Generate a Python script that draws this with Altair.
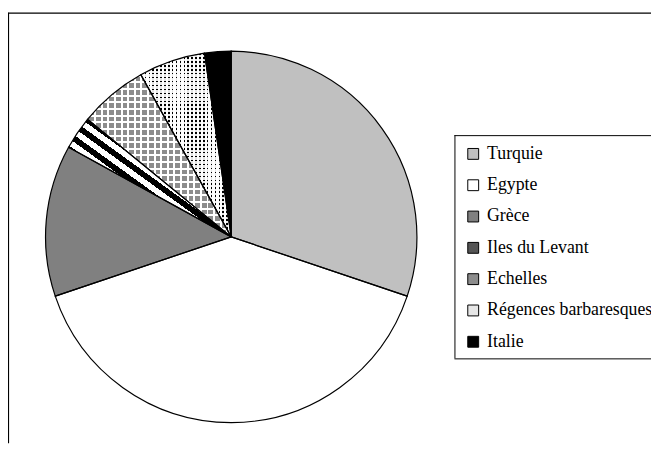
import altair as alt
import pandas as pd

categories = ["Turquie", "Egypte", "Grèce", "Iles du Levant", "Echelles",
              "Régences barbaresques", "Italie"]
shares = [30.2, 39.7, 13.2, 2.9, 6.0, 5.8, 2.3]
base_colors = ["#c0c0c0", "#ffffff", "#808080", "#555555", "#8c8c8c", "#e6e6e6", "#000000"]

df = pd.DataFrame({"cat": categories, "value": shares, "idx": list(range(len(categories)))})

CLEAR = "rgba(255,255,255,0)"


def stripes(x1, y1, x2, y2, period, on_frac, on, off):
    stops = []
    k = 0
    while True:
        a = k * period
        if a >= 1:
            break
        b = min(a + period * on_frac, 1.0)
        c = min(a + period, 1.0)
        stops += [{"offset": round(a, 5), "color": on}, {"offset": round(b, 5), "color": on}]
        if b < 1:
            stops += [{"offset": round(b, 5), "color": off}, {"offset": round(c, 5), "color": off}]
        k += 1
    return {"gradient": "linear", "x1": x1, "y1": y1, "x2": x2, "y2": y2, "stops": stops}


g_iles = stripes(0, 1, 1, 0, 0.06, 0.5, "#000000", "#ffffff")
g_ech_h = stripes(0, 0, 0, 1, 0.041, 0.3, "#ffffff", CLEAR)
g_ech_v = stripes(0, 0, 1, 0, 0.046, 0.3, "#ffffff", CLEAR)
g_reg_h = stripes(0, 0, 0, 1, 0.0215, 0.4, "#000000", CLEAR)
g_reg_v = stripes(0, 0, 1, 0, 0.043, 0.4, CLEAR, "#ffffff")

CX, CY, R = 226, 227, 188
W, H = 651, 436
LX, LY, LB = 452, 124, 350

theta = alt.Theta("value:Q", stack=True)
order = alt.Order("idx:Q", sort="ascending")

base = alt.Chart(df).mark_arc(radius=R, stroke=None).encode(
    theta=theta,
    order=order,
    x=alt.value(CX),
    y=alt.value(CY),
    color=alt.Color(
        "cat:N",
        scale=alt.Scale(domain=categories, range=base_colors),
        legend=alt.Legend(
            orient="none", legendX=LX, legendY=LY, title=None,
            symbolType="square", symbolSize=121, symbolStrokeColor="black",
            symbolStrokeWidth=1, symbolOpacity=1,
            labelFont="Liberation Serif", labelFontSize=18, labelColor="black",
            labelLimit=400, labelOffset=5, rowPadding=13.7,
            padding=10,
        ),
    ),
)

overlay_a = alt.Chart(df).mark_arc(radius=R, stroke=None).encode(
    theta=theta,
    order=order,
    x=alt.value(CX),
    y=alt.value(CY),
    fill={
        "condition": [
            {"test": "datum.cat === 'Iles du Levant'", "value": g_iles},
            {"test": "datum.cat === 'Echelles'", "value": g_ech_h},
            {"test": "datum.cat === 'Régences barbaresques'", "value": g_reg_h},
        ],
        "value": CLEAR,
    },
)

overlay_b = alt.Chart(df).mark_arc(radius=R, stroke=None).encode(
    theta=theta,
    order=order,
    x=alt.value(CX),
    y=alt.value(CY),
    fill={
        "condition": [
            {"test": "datum.cat === 'Echelles'", "value": g_ech_v},
            {"test": "datum.cat === 'Régences barbaresques'", "value": g_reg_v},
        ],
        "value": CLEAR,
    },
)

outline = alt.Chart(df).mark_arc(radius=R, fill=CLEAR, stroke="black", strokeWidth=1.2).encode(
    theta=theta,
    order=order,
    x=alt.value(CX),
    y=alt.value(CY),
)

frame_data = alt.Data(values=[{"f": 1}])
frame_left = alt.Chart(frame_data).mark_rule(color="black", strokeWidth=1.2).encode(
    x=alt.value(0.5), y=alt.value(0), y2=alt.value(H)
)
frame_top = alt.Chart(frame_data).mark_rule(color="black", strokeWidth=1.2).encode(
    x=alt.value(0), x2=alt.value(W), y=alt.value(0.5)
)
legend_left = alt.Chart(frame_data).mark_rule(color="black", strokeWidth=1).encode(
    x=alt.value(LX + 0.5), y=alt.value(LY), y2=alt.value(LB)
)
legend_top = alt.Chart(frame_data).mark_rule(color="black", strokeWidth=1).encode(
    x=alt.value(LX), x2=alt.value(W + 5), y=alt.value(LY + 0.5)
)
legend_bottom = alt.Chart(frame_data).mark_rule(color="black", strokeWidth=1).encode(
    x=alt.value(LX), x2=alt.value(W + 5), y=alt.value(LB + 0.5)
)

chart = alt.layer(
    base, overlay_a, overlay_b, outline,
    frame_left, frame_top, legend_left, legend_top, legend_bottom,
).properties(
    width=W,
    height=H,
    autosize="none",
    padding={"left": 0, "top": 2, "right": 0, "bottom": 0},
    background="white",
).configure_view(stroke=None)

chart.save("out.html", embed_options={"renderer": "svg", "actions": False})
